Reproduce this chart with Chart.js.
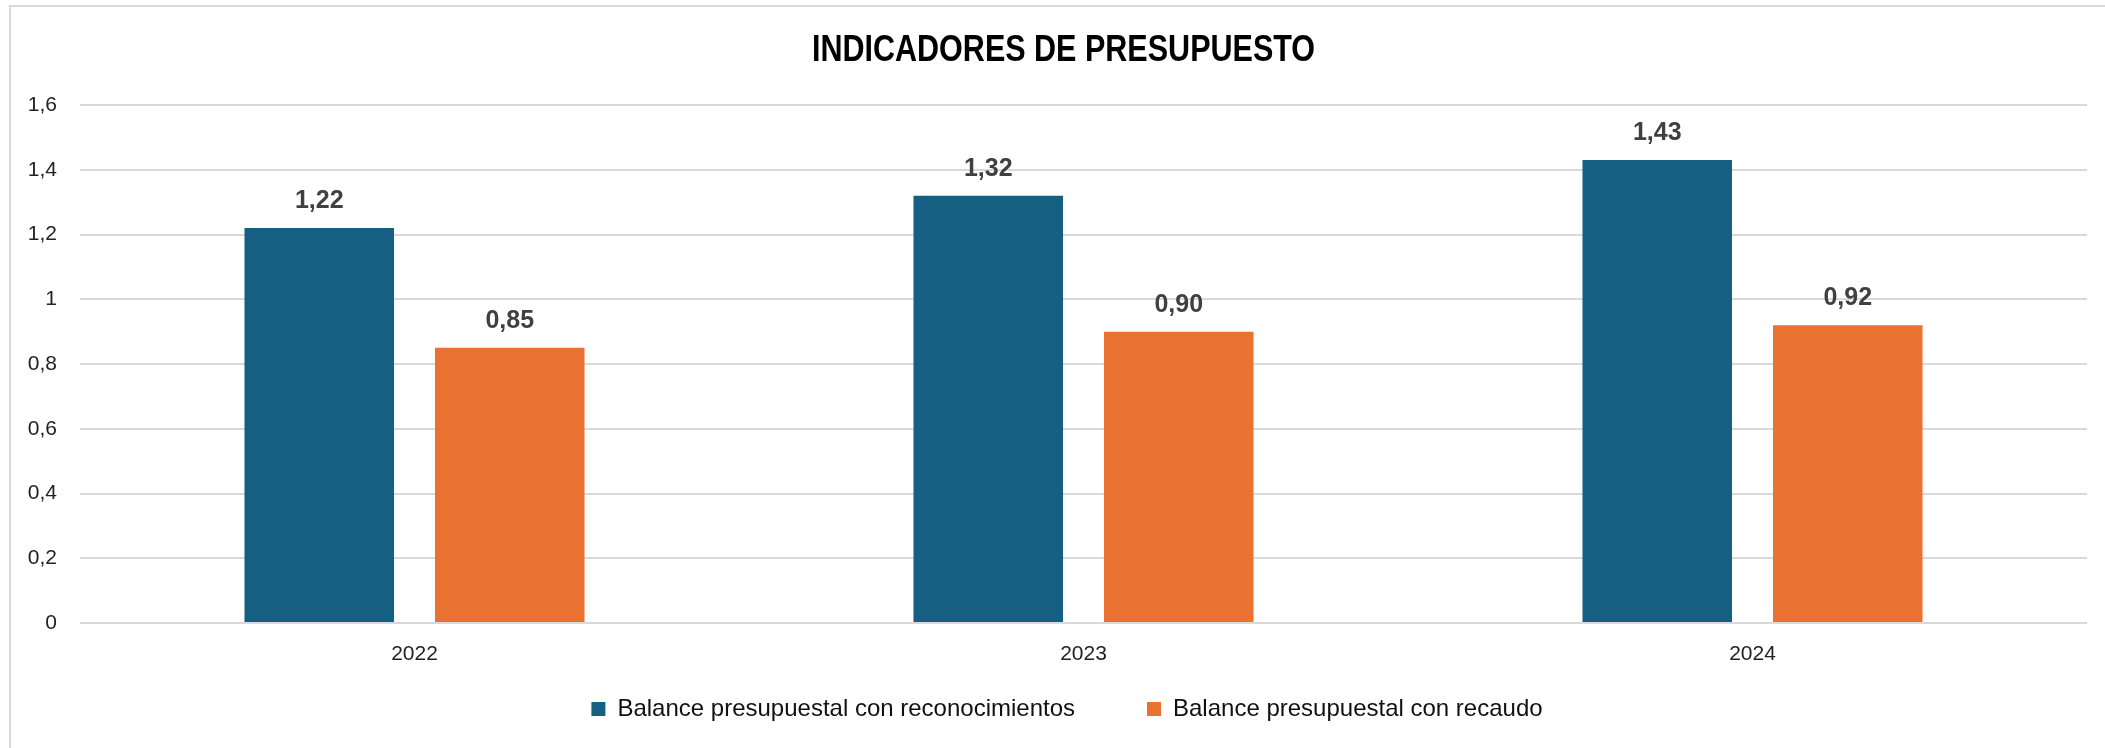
<!DOCTYPE html>
<html lang="es">
<head>
    <meta charset="UTF-8">
    <title>Indicadores de Presupuesto</title>
    <script src="https://cdn.jsdelivr.net/npm/chart.js"></script>
    <style>
        body {
            margin: 0;
            padding: 0;
            background-color: #ffffff;
            overflow: hidden;
        }
        /* marco gris del grafico */
        #marco {
            position: absolute;
            left: 9px;
            top: 5px;
            border: 2px solid #d9d9d9;
            width: 2116px;
            height: 780px;
        }
        canvas {
            display: block;
        }
    </style>
</head>
<body>
    <div id="marco">
        <canvas id="grafica" width="2116" height="780"></canvas>
    </div>

    <script>
        // Datos del grafico
        const titulo = 'INDICADORES DE PRESUPUESTO';
        const categorias = ['2022', '2023', '2024'];
        const balanceReconocimientos = [1.22, 1.32, 1.43];
        const balanceRecaudo = [0.85, 0.90, 0.92];
        const ejeYMin = 0;
        const ejeYMax = 1.6;
        const ejeYPaso = 0.2;

        const fuente = "'Liberation Sans', Arial, sans-serif";

        // Titulo en letra estrecha (no hay fuente narrow instalada, se comprime en x)
        const tituloEstrecho = {
            id: 'tituloEstrecho',
            afterDraw(chart) {
                const ctx = chart.ctx;
                ctx.save();
                ctx.font = 'bold 37px ' + fuente;
                ctx.fillStyle = '#000000';
                ctx.textAlign = 'center';
                ctx.textBaseline = 'middle';
                ctx.translate(1052.5, 43.5);
                ctx.scale(0.825, 1);
                ctx.fillText(titulo, 0, 0);
                ctx.restore();
            }
        };

        // Etiquetas con el valor encima de cada barra
        const etiquetasValores = {
            id: 'etiquetasValores',
            afterDatasetsDraw(chart) {
                const ctx = chart.ctx;
                ctx.save();
                ctx.font = 'bold 25px ' + fuente;
                ctx.fillStyle = '#404040';
                ctx.textAlign = 'center';
                ctx.textBaseline = 'alphabetic';
                chart.data.datasets.forEach((ds, i) => {
                    const meta = chart.getDatasetMeta(i);
                    meta.data.forEach((barra, j) => {
                        const texto = ds.data[j].toFixed(2).replace('.', ',');
                        ctx.fillText(texto, barra.x, barra.y - 20);
                    });
                });
                ctx.restore();
            }
        };

        // Subir la leyenda justo debajo del eje x
        const subirLeyenda = {
            id: 'subirLeyenda',
            afterLayout(chart) {
                const ley = chart.legend;
                const alto = ley.height;
                ley.top = chart.chartArea.bottom + 2;
                ley.bottom = ley.top + alto;
            }
        };

        const ctx = document.getElementById('grafica').getContext('2d');
        window.miGrafico = new Chart(ctx, {
            type: 'bar',
            data: {
                labels: categorias,
                datasets: [
                    {
                        label: 'Balance presupuestal con reconocimientos',
                        data: balanceReconocimientos,
                        backgroundColor: '#156082',
                        categoryPercentage: 0.5695,
                        barPercentage: 0.785
                    },
                    {
                        label: 'Balance presupuestal con recaudo',
                        data: balanceRecaudo,
                        backgroundColor: '#E97132',
                        categoryPercentage: 0.5695,
                        barPercentage: 0.785
                    }
                ]
            },
            options: {
                responsive: false,
                animation: false,
                devicePixelRatio: 1,
                layout: {
                    padding: { left: 0, right: 4, top: 98, bottom: 12 }
                },
                plugins: {
                    title: { display: false },
                    legend: {
                        position: 'bottom',
                        labels: {
                            boxWidth: 14,
                            boxHeight: 14,
                            padding: 72,
                            color: '#111111',
                            font: { family: fuente, size: 24 }
                        }
                    },
                    tooltip: { enabled: false }
                },
                scales: {
                    x: {
                        grid: { display: false, drawTicks: false },
                        border: { display: false },
                        ticks: {
                            color: '#222222',
                            padding: 19,
                            font: { family: fuente, size: 21 }
                        },
                        afterFit: (escala) => { escala.height = 46; }
                    },
                    y: {
                        min: ejeYMin,
                        max: ejeYMax,
                        grid: { color: '#d9d9d9', lineWidth: 2, drawTicks: false },
                        border: { display: false },
                        ticks: {
                            stepSize: ejeYPaso,
                            color: '#222222',
                            padding: 23,
                            font: { family: fuente, size: 21 },
                            callback: (v) => String(Number(v.toFixed(1))).replace('.', ',')
                        },
                        afterFit: (escala) => { escala.width = 69; }
                    },
                    // eje vacio a la derecha, solo reserva espacio
                    margenDerecho: {
                        position: 'right',
                        grid: { display: false, drawTicks: false },
                        border: { display: false },
                        ticks: { display: false },
                        afterFit: (escala) => { escala.width = 36; }
                    }
                }
            },
            plugins: [etiquetasValores, subirLeyenda, tituloEstrecho]
        });
    </script>
</body>
</html>
